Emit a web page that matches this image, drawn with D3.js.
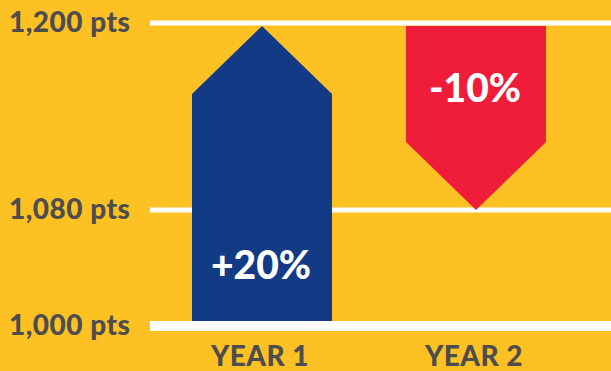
<!DOCTYPE html>
<html>
<head>
<meta charset="utf-8">
<script src="https://cdn.jsdelivr.net/npm/d3@7"></script>
<style>
  body { margin: 0; background: #fec123; }
  svg { display: block; }
  text { font-family: "Lato", "DejaVu Sans", sans-serif; font-weight: 900; }
</style>
</head>
<body>
<svg id="chart"></svg>
<script>
const categories = ['YEAR 1', 'YEAR 2'];
const startValues = [1000, 1200];
const endValues = [1200, 1080];
const changeLabels = ['+20%', '-10%'];
const tickValues = [1000, 1080, 1200];
const tickLabels = ['1,000 pts', '1,080 pts', '1,200 pts'];

const width = 611;
const height = 371;
const barW = 140;
const headH = 68;
const colors = ['#133b85', '#ef1d3a'];

const svg = d3.select('#chart')
    .attr('width', width)
    .attr('height', height);

svg.append('rect')
    .attr('width', width)
    .attr('height', height)
    .attr('fill', '#fec123');

// infographic scale, not quite linear
const y = d3.scaleLinear()
    .domain([1000, 1080, 1200])
    .range([326, 210, 23]);

const x = d3.scalePoint()
    .domain(categories)
    .range([262, 476]);

// grid lines
svg.append('g')
  .selectAll('line')
  .data(tickValues)
  .join('line')
    .attr('x1', 150)
    .attr('x2', width)
    .attr('y1', d => y(d))
    .attr('y2', d => y(d))
    .attr('stroke', '#fff')
    .attr('stroke-width', d => d === 1000 ? 10 : 5);

svg.append('g')
  .selectAll('text')
  .data(tickValues)
  .join('text')
    .attr('x', 9)
    .attr('y', d => y(d) + 9)
    .attr('fill', '#4d4d4f')
    .attr('font-size', 28)
    .attr('letter-spacing', 0.5)
    .text((d, i) => tickLabels[i]);

// arrows
const arrow = (d, i) => {
  const cx = x(categories[i]);
  const l = cx - barW / 2, r = cx + barW / 2;
  const s = startValues[i], e = endValues[i];
  if (e > s) {
    const b = y(s) - 5, t = y(e) + 3;
    return `M${l},${b}L${l},${t + headH}L${cx},${t}L${r},${t + headH}L${r},${b}Z`;
  }
  const t = y(s) + 3, b = y(e);
  return `M${l},${t}L${r},${t}L${r},${b - headH}L${cx},${b}L${l},${b - headH}Z`;
};

svg.append('g')
  .selectAll('path')
  .data(categories)
  .join('path')
    .attr('d', arrow)
    .attr('fill', (d, i) => colors[i]);

svg.append('g')
  .selectAll('text')
  .data(categories)
  .join('text')
    .attr('x', d => x(d) - 1)
    .attr('y', (d, i) => endValues[i] > startValues[i] ? y(startValues[i]) - 47 : y(startValues[i]) + 79)
    .attr('text-anchor', 'middle')
    .attr('fill', '#fff')
    .attr('font-size', 39)
    .text((d, i) => changeLabels[i]);

// category labels
svg.append('g')
  .selectAll('text')
  .data(categories)
  .join('text')
    .attr('x', d => x(d) - 2)
    .attr('y', 366)
    .attr('text-anchor', 'middle')
    .attr('fill', '#4d4d4f')
    .attr('font-size', 28)
    .attr('letter-spacing', 0.5)
    .text(d => d);
</script>
</body>
</html>
